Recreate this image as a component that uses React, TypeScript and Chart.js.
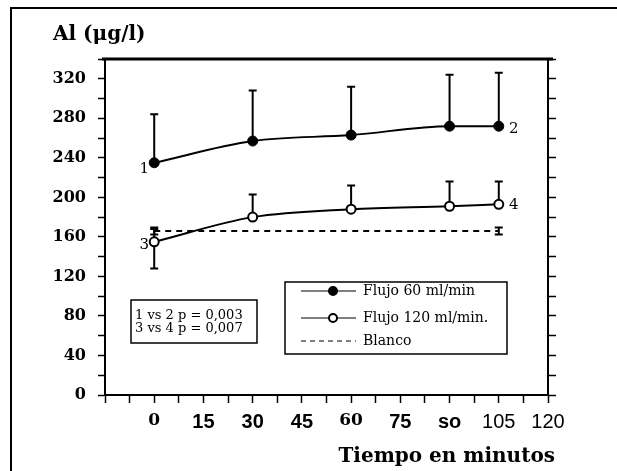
import React, { useEffect, useRef } from 'react';
import { Chart, registerables } from 'chart.js';

Chart.register(...registerables);

// ---- data ----
const TIMES = [0, 30, 60, 90, 105];
const FLUJO60 = [235, 257, 263, 272, 272];
const FLUJO60_UP = [284, 308, 312, 324, 326];
const FLUJO120 = [155, 180, 188, 191, 193];
const FLUJO120_UP = [168, 203, 212, 216, 216];
const FLUJO120_DOWN: (number | null)[] = [128, null, null, null, null];
const BLANCO_TIMES = [0, 105];
const BLANCO = [166, 166];
const BLANCO_UP = [169.5, 169.5];
const BLANCO_DOWN = [162.5, 162.5];

const X_TICK_VALUES = [0, 15, 30, 45, 60, 75, 90, 105, 120];
const X_TICK_TEXT = ['0', '15', '30', '45', '60', '75', 'so', '105', '120'];
const Y_TICK_VALUES = [0, 40, 80, 120, 160, 200, 240, 280, 320];

const SERIES_LABELS = ['Flujo 60 ml/min', 'Flujo 120 ml/min.', 'Blanco'];
const CURVE_TAGS = ['1', '2', '3', '4'];
const STATS_LINES = ['1 vs 2 p = 0,003', '3 vs 4 p = 0,007'];
const Y_TITLE = 'Al (\u03bcg/l)';
const X_TITLE = 'Tiempo en minutos';

const SERIF = "'DejaVu Serif', 'Liberation Serif', serif";
const NARROW = "'Liberation Sans Narrow', 'Liberation Sans', sans-serif";

const pts = (xs: number[], ys: number[]) => xs.map((x, i) => ({ x, y: ys[i] }));

const decorPlugin = {
  id: 'decor',
  beforeDatasetsDraw(chart: any) {
    const ctx = chart.ctx;
    const ys = chart.scales.y;
    ctx.save();
    ctx.strokeStyle = '#000';
    ctx.lineWidth = 2;
    chart.data.datasets.forEach((ds: any, i: number) => {
      const meta = chart.getDatasetMeta(i);
      const drawBar = (el: any, v: number | null | undefined, cap: number) => {
        if (v === null || v === undefined) return;
        const yp = ys.getPixelForValue(v);
        ctx.beginPath();
        ctx.moveTo(el.x, el.y);
        ctx.lineTo(el.x, yp);
        ctx.moveTo(el.x - cap, yp);
        ctx.lineTo(el.x + cap, yp);
        ctx.stroke();
      };
      meta.data.forEach((el: any, j: number) => {
        const cap = ds.capHalf ?? 4;
        if (ds.errUp) drawBar(el, ds.errUp[j], cap);
        if (ds.errDown) drawBar(el, ds.errDown[j], cap);
      });
    });
    ctx.restore();
  },
  afterDraw(chart: any) {
    const ctx = chart.ctx;
    const ca = chart.chartArea;
    ctx.save();
    ctx.strokeStyle = '#000';
    ctx.fillStyle = '#000';

    // outer frame (top and left)
    ctx.lineWidth = 2;
    ctx.beginPath();
    ctx.moveTo(10, 8);
    ctx.lineTo(chart.width, 8);
    ctx.moveTo(11, 7);
    ctx.lineTo(11, chart.height);
    ctx.stroke();

    // top frame of the plot
    ctx.lineWidth = 3;
    ctx.beginPath();
    ctx.moveTo(ca.left - 3, ca.top);
    ctx.lineTo(ca.right + 5, ca.top);
    ctx.stroke();

    // y title
    ctx.font = `bold 20px ${SERIF}`;
    ctx.textAlign = 'left';
    ctx.textBaseline = 'alphabetic';
    ctx.fillText(Y_TITLE, 53, 40);

    // x title
    ctx.font = `bold 20px ${SERIF}`;
    ctx.textAlign = 'right';
    ctx.fillText(X_TITLE, 555, 462);

    // curve tags
    ctx.font = `15px ${SERIF}`;
    ctx.textAlign = 'center';
    ctx.textBaseline = 'middle';
    const m0 = chart.getDatasetMeta(0).data;
    const m1 = chart.getDatasetMeta(1).data;
    ctx.fillText(CURVE_TAGS[0], m0[0].x - 10, m0[0].y + 6);
    ctx.fillText(CURVE_TAGS[1], m0[m0.length - 1].x + 15, m0[m0.length - 1].y + 3);
    ctx.fillText(CURVE_TAGS[2], m1[0].x - 10, m1[0].y + 3);
    ctx.fillText(CURVE_TAGS[3], m1[m1.length - 1].x + 15, m1[m1.length - 1].y + 1);

    // stats box
    ctx.lineWidth = 1.5;
    ctx.strokeRect(131, 300, 126, 43);
    ctx.font = `13px ${SERIF}`;
    ctx.textAlign = 'left';
    ctx.textBaseline = 'middle';
    ctx.fillText(STATS_LINES[0], 135, 316);
    ctx.fillText(STATS_LINES[1], 135, 329);

    // legend box
    ctx.lineWidth = 1.5;
    ctx.strokeRect(285, 282, 222, 72);
    const rows = [291, 318, 341];
    ctx.font = `14px ${SERIF}`;
    chart.data.datasets.forEach((ds: any, i: number) => {
      const y = rows[i];
      ctx.save();
      ctx.lineWidth = 1.2;
      if (ds.borderDash && ds.borderDash.length) ctx.setLineDash([5, 4]);
      ctx.beginPath();
      ctx.moveTo(301, y);
      ctx.lineTo(356, y);
      ctx.stroke();
      ctx.restore();
      if (ds.pointRadius > 0) {
        ctx.beginPath();
        ctx.arc(333, y, 4, 0, Math.PI * 2);
        ctx.fillStyle = ds.pointBackgroundColor;
        ctx.fill();
        ctx.lineWidth = 2;
        ctx.stroke();
        ctx.fillStyle = '#000';
      }
      ctx.textAlign = 'left';
      ctx.textBaseline = 'middle';
      ctx.fillText(ds.label, 363, y);
    });
    ctx.restore();
  },
};

export default function App() {
  const ref = useRef<HTMLCanvasElement | null>(null);
  useEffect(() => {
    if (!ref.current) return;
    const chart = new Chart(ref.current, {
      type: 'line',
      data: {
        datasets: [
          {
            label: SERIES_LABELS[0],
            data: pts(TIMES, FLUJO60),
            borderColor: '#000',
            borderWidth: 2,
            pointRadius: 5,
            pointBackgroundColor: '#000',
            pointBorderColor: '#000',
            pointBorderWidth: 1,
            cubicInterpolationMode: 'monotone',
            errUp: FLUJO60_UP,
          } as any,
          {
            label: SERIES_LABELS[1],
            data: pts(TIMES, FLUJO120),
            borderColor: '#000',
            borderWidth: 2,
            pointRadius: 4.5,
            pointBackgroundColor: '#fff',
            pointBorderColor: '#000',
            pointBorderWidth: 2,
            cubicInterpolationMode: 'monotone',
            errUp: FLUJO120_UP,
            errDown: FLUJO120_DOWN,
          } as any,
          {
            label: SERIES_LABELS[2],
            data: pts(BLANCO_TIMES, BLANCO),
            borderColor: '#000',
            borderWidth: 2,
            borderDash: [6, 5],
            pointRadius: 0,
            errUp: BLANCO_UP,
            errDown: BLANCO_DOWN,
          } as any,
        ],
      },
      options: {
        animation: false,
        responsive: true,
        maintainAspectRatio: false,
        layout: { padding: { top: 59, right: 57, bottom: 0, left: 0 } },
        plugins: { legend: { display: false }, tooltip: { enabled: false } },
        scales: {
          x: {
            type: 'linear',
            min: -15,
            max: 120,
            afterFit: (s: any) => { s.height = 76; },
            afterBuildTicks: (s: any) => {
              const t: any[] = [];
              for (let v = -15; v <= 120; v += 7.5) t.push({ value: v });
              s.ticks = t;
            },
            ticks: {
              autoSkip: false,
              maxRotation: 0,
              color: '#000',
              padding: 7,
              callback: (v: any) => {
                const k = X_TICK_VALUES.indexOf(Number(v));
                return k >= 0 ? X_TICK_TEXT[k] : '';
              },
              font: (c: any) => {
                const v = c.tick ? c.tick.value : 0;
                if (v === 0 || v === 60) return { family: SERIF, weight: 'bold', size: 17 };
                if (v === 105 || v === 120) return { family: NARROW, weight: 'normal', size: 20 };
                return { family: NARROW, weight: 'bold', size: 20 };
              },
            },
            grid: { drawOnChartArea: false, drawTicks: true, tickLength: 8, tickColor: '#000', tickWidth: 1.5 },
            border: { display: true, color: '#000', width: 2 },
          },
          y: {
            min: 0,
            max: 340,
            afterFit: (s: any) => { s.width = 105; },
            ticks: {
              stepSize: 20,
              autoSkip: false,
              color: '#000',
              padding: 12,
              font: { family: SERIF, weight: 'bold', size: 16 },
              callback: (v: any) => (Y_TICK_VALUES.includes(Number(v)) ? String(v) : ''),
            },
            grid: { drawOnChartArea: false, drawTicks: true, tickLength: 7, tickColor: '#000', tickWidth: 1.5 },
            border: { display: true, color: '#000', width: 2 },
          },
          y2: {
            position: 'right',
            min: 0,
            max: 340,
            afterFit: (s: any) => { s.width = 12; },
            ticks: { stepSize: 20, display: false },
            grid: { drawOnChartArea: false, drawTicks: true, tickLength: 8, tickColor: '#000', tickWidth: 1.5 },
            border: { display: true, color: '#000', width: 2 },
          },
        },
      } as any,
      plugins: [decorPlugin],
    });
    return () => chart.destroy();
  }, []);
  return (
    <div style={{ position: 'absolute', left: 0, top: 0, width: 617, height: 471, background: '#fff' }}>
      <canvas ref={ref} />
    </div>
  );
}
